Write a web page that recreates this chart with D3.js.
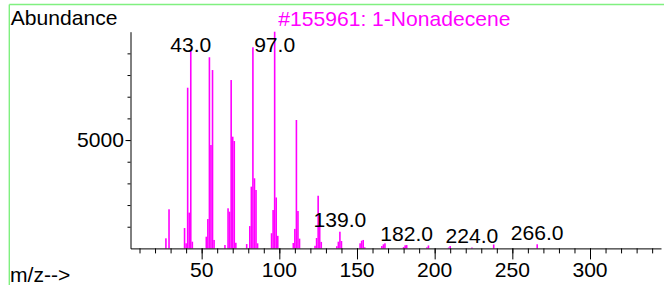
<!DOCTYPE html>
<html>
<head>
<meta charset="utf-8">
<script src="https://cdn.jsdelivr.net/npm/d3@7"></script>
<style>
  html, body { margin: 0; padding: 0; background: #fff; }
  svg { display: block; }
  text { font-family: "Liberation Sans", Arial, sans-serif; font-size: 20px; }
</style>
</head>
<body>
<svg id="chart" width="664" height="285"></svg>
<script>
// ---- data ----
const mzValues = [27,29,39,40,41,42,43,44,53,54,55,56,57,58,65,67,68,69,70,71,72,
  79,81,82,83,84,85,86,95,96,97,98,99,109,110,111,112,113,123,124,125,126,127,
  137,138,139,140,152,153,154,155,166,167,168,180,181,182,195,196,209,210,224,238,266];
const abundances = [465,1805,940,235,7415,1650,9130,310,540,1355,8820,4770,8230,390,155,1850,1695,7770,5155,4955,260,
  200,1030,2850,9280,3235,2695,235,700,1770,10000,2350,580,250,900,5925,1725,450,120,480,2430,1100,300,
  100,310,770,340,235,355,390,50,110,190,235,60,145,155,50,135,40,110,40,180,190];
const peakLabels = [43, 97, 139, 182, 224, 266];
const xMajorTicks = [50, 100, 150, 200, 250, 300];
const xMinorTicks = d3.range(10, 341, 10);
const yMajorTicks = [5000];
const yMinorTicks = d3.range(1000, 10000, 1000);
const titleText = "#155961: 1-Nonadecene";
const yTitle = "Abundance";
const xTitle = "m/z-->";

// ---- layout ----
const svg = d3.select("#chart");
const x = d3.scaleLinear().domain([4.2, 345.7]).range([130.5, 661]);
const y = d3.scaleLinear().domain([0, 10000]).range([248.4, 31.7]);
const SX = 1.055;

function addText(px, py, str, anchor, color) {
  return svg.append("text")
    .attr("transform", `translate(${px},${py}) scale(${SX},1)`)
    .attr("text-anchor", anchor)
    .attr("fill", color)
    .text(str);
}

// green frame
svg.append("line").attr("x1", 9.3).attr("x2", 664).attr("y1", 4.5).attr("y2", 4.5)
  .attr("stroke", "#80f080").attr("stroke-width", 1.6);
svg.append("line").attr("x1", 9.3).attr("x2", 9.3).attr("y1", 4.5).attr("y2", 285)
  .attr("stroke", "#80f080").attr("stroke-width", 1.4);

// bars
const peaks = mzValues.map((m, i) => ({ m, v: abundances[i] }));
svg.append("g").selectAll("rect").data(peaks).join("rect")
  .attr("x", d => x(d.m) - 0.8)
  .attr("width", 1.6)
  .attr("y", d => y(d.v))
  .attr("height", d => y(0) - y(d.v))
  .attr("fill", "#ff00ff");

// y axis
svg.append("g").attr("transform", `translate(${x.range()[0]},0)`)
  .call(d3.axisLeft(y).tickValues(yMinorTicks).tickSize(3).tickSizeOuter(0).tickFormat(""));
const yAxisMajor = svg.append("g").attr("transform", `translate(${x.range()[0]},0)`)
  .call(d3.axisLeft(y).tickValues(yMajorTicks).tickSize(5).tickSizeOuter(0).tickFormat(""));
yAxisMajor.select(".domain").remove();

// x axis
svg.append("g").attr("transform", `translate(0,${y(0)})`)
  .call(d3.axisBottom(x).tickValues(xMinorTicks).tickSize(5).tickSizeOuter(0).tickFormat(""));
const xAxisMajor = svg.append("g").attr("transform", `translate(0,${y(0)})`)
  .call(d3.axisBottom(x).tickValues(xMajorTicks).tickSize(11).tickSizeOuter(0).tickFormat(""));
xAxisMajor.select(".domain").remove();
svg.selectAll(".domain, .tick line").attr("stroke", "#000").attr("stroke-width", 1);

// tick labels
xMajorTicks.forEach(t => addText(x(t), 277, String(t), "middle", "#000"));
yMajorTicks.forEach(t => addText(124, y(t) + 7, String(t), "end", "#000"));

// peak labels
peakLabels.forEach(m => {
  const i = mzValues.indexOf(m);
  const v = abundances[i];
  const by = Math.max(52, y(v) - 4.5);
  addText(x(m), by, m.toFixed(1), "middle", "#000");
});

// titles
addText(10.7, 25, yTitle, "start", "#000");
addText(278.3, 26.2, titleText, "start", "#ff00ff");
addText(10, 282, xTitle, "start", "#000");
</script>
</body>
</html>
